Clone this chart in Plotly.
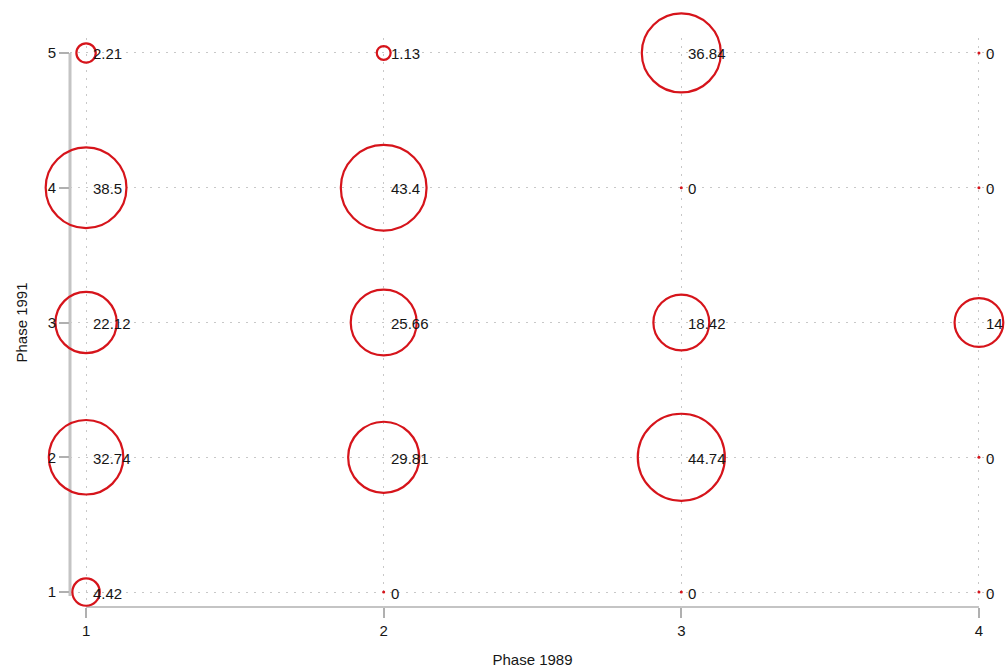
import plotly.graph_objects as go

# Transition shares (%) between phases, one list per Phase 1989 category;
# each list runs over Phase 1991 categories 1..5.
phase_1991 = [1, 2, 3, 4, 5]
phase_1989_levels = [1, 2, 3, 4]
share_from_1 = [4.42, 32.74, 22.12, 38.5, 2.21]
share_from_2 = [0, 29.81, 25.66, 43.4, 1.13]
share_from_3 = [0, 44.74, 18.42, 0, 36.84]
share_from_4 = [0, 0, 14, 0, 0]

x_tick_labels = ["1", "2", "3", "4"]
y_tick_labels = ["1", "2", "3", "4", "5"]

columns = [share_from_1, share_from_2, share_from_3, share_from_4]
xs, ys, vals = [], [], []
for lvl, col in zip(phase_1989_levels, columns):
    for yv, v in zip(phase_1991, col):
        xs.append(lvl)
        ys.append(yv)
        vals.append(v)

RED = "#d6141b"
FONT = "Liberation Sans, Arial, Helvetica, sans-serif"
TXT = "#161616"

fig = go.Figure()
# Bubbles: area proportional to the share
fig.add_trace(go.Scatter(
    x=[x for x, v in zip(xs, vals) if v > 0],
    y=[y for y, v in zip(ys, vals) if v > 0],
    mode="markers",
    marker=dict(
        size=[v for v in vals if v > 0], sizemode="area", sizeref=0.0118,
        symbol="circle-open", color=RED, opacity=1,
        line=dict(color=RED, width=2.2),
    ),
    cliponaxis=False, showlegend=False, hoverinfo="skip",
))
# Empty cells drawn as a tiny dot
fig.add_trace(go.Scatter(
    x=[x for x, v in zip(xs, vals) if v == 0],
    y=[y for y, v in zip(ys, vals) if v == 0],
    mode="markers",
    marker=dict(size=3, symbol="circle", color=RED, line=dict(width=0)),
    cliponaxis=False, showlegend=False, hoverinfo="skip",
))

for xv, yv, v in zip(xs, ys, vals):
    fig.add_annotation(
        x=xv, y=yv, text=f"{v:g}", showarrow=False,
        xanchor="left", yanchor="middle", xshift=5, yshift=-1,
        font=dict(family=FONT, size=15, color=TXT),
    )

grid = dict(showgrid=True, gridcolor="#c8c8c8", gridwidth=1, griddash="2px,6px",
            zeroline=False, showline=False, ticks="outside", ticklen=10,
            tickcolor="#b0b0b0", tickwidth=2, automargin=False,
            tickfont=dict(family=FONT, size=15, color=TXT))

fig.update_layout(
    width=1005, height=669,
    margin=dict(l=70, r=10, t=38, b=62),
    paper_bgcolor="white", plot_bgcolor="white",
    xaxis=dict(range=[0.946, 4.054], tickvals=phase_1989_levels, ticktext=x_tick_labels,
               title=dict(text="Phase 1989", standoff=16,
                          font=dict(family=FONT, size=15, color=TXT)), **grid),
    yaxis=dict(range=[0.889, 5.111], tickvals=phase_1991, ticktext=y_tick_labels,
               title=dict(text="Phase 1991", standoff=16,
                          font=dict(family=FONT, size=15, color=TXT)), **grid),
)

# Axis lines spanning the tick range only
fig.add_shape(type="line", xref="paper", yref="y", x0=0, x1=0,
              y0=min(phase_1991) - 0.03, y1=max(phase_1991),
              line=dict(color="#c4c4c4", width=3), layer="below")
fig.add_shape(type="line", xref="x", yref="paper", y0=0, y1=0,
              x0=min(phase_1989_levels), x1=max(phase_1989_levels),
              line=dict(color="#c4c4c4", width=2), layer="below")

fig.write_html("out.html")
